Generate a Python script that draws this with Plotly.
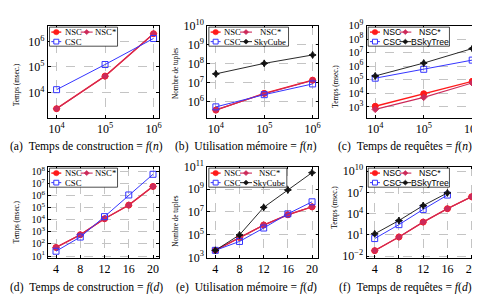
import plotly.graph_objects as go

W, H = 480, 296

# ---------------- data ----------------
n_vals = [1e4, 1e5, 1e6]
d_vals = [4, 8, 12, 16, 20]
d_vals_short = [4, 8, 12, 16]

a_nsc = [2350, 44000, 2.0e6]
a_nsc_star = [2350, 44000, 2.0e6]
a_csc = [13000, 125000, 1.3e6]

b_nsc = [3.5e5, 2.7e6, 1.35e7]
b_nsc_star = [3.6e5, 2.6e6, 1.3e7]
b_csc = [5.2e5, 2.3e6, 8.5e6]
b_skycube = [2.9e7, 1.04e8, 2.9e8]

c_nsc = [1.1e3, 9.2e3, 7.6e4]
c_nsc_star = [650, 5.0e3, 5.8e4]
c_csc = [1.3e5, 5.9e5, 2.8e6]
c_bskytree = [1.9e5, 1.7e6, 2.0e7]

d_nsc = [51, 570, 1.2e4, 1.6e5, 5.6e6]
d_nsc_star = [51, 570, 1.2e4, 1.6e5, 5.6e6]
d_csc = [25, 370, 1.8e4, 1.1e6, 5.6e7]

e_nsc = [4.1e3, 5.6e4, 7.0e5, 5.6e6, 2.8e7]
e_nsc_star = [4.1e3, 5.6e4, 7.0e5, 5.6e6, 2.8e7]
e_csc = [4.1e3, 2.5e4, 3.8e5, 6.8e6, 7.8e7]
e_skycube = [4.1e3, 9.4e4, 2.5e7, 8.7e8, 2.9e10]

f_nsc = [0.059, 5, 650, 5.0e4, 2.5e6]
f_nsc_star = [0.059, 5, 650, 5.0e4, 2.5e6]
f_csc = [3, 280, 4.0e4, 4.3e6]
f_bskytree = [14, 1070, 1.4e5, 8.7e6]

# tick exponents
x_exp_n = [4, 5, 6]
x_ticks_d = [4, 8, 12, 16, 20]
a_y_exp = [4, 5, 6]
b_y_exp = [6, 7, 8, 9, 10]
c_y_exp = [3, 4, 5, 6, 7, 8, 9]
d_y_exp = [1, 2, 3, 4, 5, 6, 7, 8]
e_y_exp = [3, 5, 7, 9, 11]
f_y_exp = [-2, 1, 4, 7, 10]

captions = [
    "(a)\u2002Temps de construction = <i>f</i>(<i>n</i>)",
    "(b)\u2002Utilisation mémoire = <i>f</i>(<i>n</i>)",
    "(c)\u2002Temps de requêtes = <i>f</i>(<i>n</i>)",
    "(d)\u2002Temps de construction = <i>f</i>(<i>d</i>)",
    "(e)\u2002Utilisation mémoire = <i>f</i>(<i>d</i>)",
    "(f)\u2002Temps de requêtes = <i>f</i>(<i>d</i>)",
]
ytitles = ["Temps (msec.)", "Nombre de tuples", "Temps (msec.)",
           "Temps (msec.)", "Nombre de tuples", "Temps (msec.)"]

# ---------------- styles ----------------
RED = "#ff1a1a"
CRIMSON = "#cc2a5a"
BLUE = "#3535ff"
BLACK = "#111111"
SERIF = "Liberation Serif"
SANS = "Liberation Sans"

styles = {
    "NSC": dict(color=RED, symbol="circle", size=6, lw=1.4),
    "NSC*": dict(color=CRIMSON, symbol="diamond", size=5, lw=1.1),
    "CSC": dict(color=BLUE, symbol="square-open", size=6, lw=1.0),
    "SkyCube": dict(color=BLACK, symbol="star-diamond", size=5, lw=0.9),
    "BSkyTree": dict(color=BLACK, symbol="star-diamond", size=5, lw=0.9),
}

panels = [
    dict(x=n_vals, series=[("NSC", a_nsc), ("NSC*", a_nsc_star), ("CSC", a_csc)]),
    dict(x=n_vals, series=[("NSC", b_nsc), ("NSC*", b_nsc_star), ("CSC", b_csc), ("SkyCube", b_skycube)]),
    dict(x=n_vals, series=[("NSC", c_nsc), ("NSC*", c_nsc_star), ("CSC", c_csc), ("BSkyTree", c_bskytree)]),
    dict(x=d_vals, series=[("NSC", d_nsc), ("NSC*", d_nsc_star), ("CSC", d_csc)]),
    dict(x=d_vals, series=[("NSC", e_nsc), ("NSC*", e_nsc_star), ("CSC", e_csc), ("SkyCube", e_skycube)]),
    dict(x=d_vals, series=[("NSC", f_nsc), ("NSC*", f_nsc_star), ("CSC", f_csc), ("BSkyTree", f_bskytree)],
         xs={"CSC": d_vals_short, "BSkyTree": d_vals_short}),
]

# layout geometry (pixels)
box_x = [(40, 152), (200, 311.7), (360, 472)]
box_y = [(10, 107), (158, 254)]
yranges = [(3.01, 6.62), (5.13, 10.02), (2.18, 9.0), (0.84, 8.39), (2.94, 11.0), (-2.27, 10.67)]
xrange_log = (3.82, 6.12)
xrange_lin = (2.65, 21.05)
y_exps = [a_y_exp, b_y_exp, c_y_exp, d_y_exp, e_y_exp, f_y_exp]
ytick_size = [12, 12, 11, 10, 12, 12]
legend_right = [110, 121.7, 123.3, 110, 120, 123.3]
legend_font = [SERIF, SERIF, SANS, SERIF, SERIF, SANS]
ytitle_cy = [72, 60, 74, 68, 67, 53]


def sup(k):
    s = str(k).replace("-", "\u2212")
    return "10<sup>" + s + "</sup>"


fig = go.Figure()
shapes = []
annotations = []

for i, p in enumerate(panels):
    col, row = i % 3, i // 3
    ax = "" if i == 0 else str(i + 1)
    xref, yref = "x" + ax, "y" + ax
    for name, vals in p["series"]:
        st = styles[name]
        xs = p.get("xs", {}).get(name, p["x"])
        fig.add_trace(go.Scatter(
            x=xs, y=vals, mode="lines+markers", name=name, showlegend=False,
            line=dict(color=st["color"], width=st["lw"]),
            marker=dict(symbol=st["symbol"], size=st["size"], color=st["color"],
                        line=dict(color=st["color"], width=1)),
            xaxis=xref, yaxis=yref, hoverinfo="skip"))

    bx0, bx1 = box_x[col]
    by0, by1 = box_y[row]
    common = dict(showline=True, linecolor="black", linewidth=0.8, mirror="ticks",
                  ticks="inside", ticklen=3, tickwidth=0.7, tickcolor="black",
                  showgrid=True, gridcolor="#c4c4c4", griddash="dash", gridwidth=0.6,
                  zeroline=False)
    if row == 0:
        xa = dict(type="log", range=list(xrange_log), tickvals=n_vals,
                  ticktext=[sup(k) for k in x_exp_n], **common)
    else:
        xa = dict(type="linear", range=list(xrange_lin), tickvals=x_ticks_d,
                  ticktext=[str(v) for v in x_ticks_d], **common)
    xa["tickfont"] = dict(family=SERIF, size=12, color="black")
    xa["domain"] = [bx0 / W, bx1 / W]
    xa["anchor"] = yref
    ya = dict(type="log", range=list(yranges[i]), tickvals=[10.0 ** k for k in y_exps[i]],
              ticktext=[sup(k) for k in y_exps[i]], **common)
    ya["tickfont"] = dict(family=SERIF, size=ytick_size[i], color="black")
    ya["domain"] = [1 - by1 / H, 1 - by0 / H]
    ya["anchor"] = xref
    fig.update_layout(**{"xaxis" + ax: xa, "yaxis" + ax: ya})

    ox, oy = 160 * col, 148 * row

    def P(x, y):
        return (ox + x) / W, 1 - (oy + y) / H

    # caption
    cx, cy = P(79, 136.7)
    annotations.append(dict(x=cx, y=cy, xref="paper", yref="paper", text=captions[i],
                            showarrow=False, xanchor="center", yanchor="middle",
                            font=dict(family=SERIF, size=11.6, color="black")))
    # y title
    tx, ty = P(8.5, ytitle_cy[i])
    annotations.append(dict(x=tx, y=ty, xref="paper", yref="paper", text=ytitles[i],
                            showarrow=False, textangle=-90, xanchor="center", yanchor="middle",
                            font=dict(family=SERIF, size=7.2, color="black")))

    # legend (custom, compact, pgfplots style)
    names = [s[0] for s in p["series"]]
    order = [names[0], names[1], names[2]] + ([names[3]] if len(names) > 3 else [])
    lx0, lx1, ly0, ly1 = 41.7, legend_right[i], 11.7, 31.7
    a0, b0 = P(lx0, ly0)
    a1, b1 = P(lx1, ly1)
    shapes.append(dict(type="rect", xref="paper", yref="paper", x0=a0, x1=a1, y0=b1, y1=b0,
                       line=dict(color="black", width=0.7), fillcolor="white", layer="above"))
    for k, name in enumerate(order):
        r, c = k // 2, k % 2
        yy = 16.9 + 10 * r
        if c == 0:
            g0, g1, gm = 43.5, 53.5, 48.5
            tx_, anchor = 55.0, "left"
        else:
            g0, g1, gm = 73.0, 85.0, 79.0
            tx_, anchor = (86.5 + lx1 - 1.5) / 2, "center"
        st = styles[name]
        q0 = P(g0, yy)
        q1 = P(g1, yy)
        shapes.append(dict(type="line", xref="paper", yref="paper", x0=q0[0], x1=q1[0],
                           y0=q0[1], y1=q1[1], line=dict(color=st["color"], width=st["lw"]),
                           layer="above"))
        sym = st["symbol"]
        if sym == "circle":
            m0 = P(gm - 2.8, yy - 2.8)
            m1 = P(gm + 2.8, yy + 2.8)
            shapes.append(dict(type="circle", xref="paper", yref="paper", x0=m0[0], x1=m1[0],
                               y0=m1[1], y1=m0[1], line=dict(color=st["color"], width=0.5),
                               fillcolor=st["color"], layer="above"))
        elif sym == "square-open":
            m0 = P(gm - 2.5, yy - 2.5)
            m1 = P(gm + 2.5, yy + 2.5)
            shapes.append(dict(type="rect", xref="paper", yref="paper", x0=m0[0], x1=m1[0],
                               y0=m1[1], y1=m0[1], line=dict(color=st["color"], width=1),
                               fillcolor="white", layer="above"))
        else:
            rr = 2.6
            pts = [P(gm, yy - rr), P(gm + rr, yy), P(gm, yy + rr), P(gm - rr, yy)]
            path = "M" + " L".join(f"{a:.5f},{b:.5f}" for a, b in pts) + " Z"
            shapes.append(dict(type="path", xref="paper", yref="paper", path=path,
                               line=dict(color=st["color"], width=0.6),
                               fillcolor=st["color"], layer="above"))
        t = P(tx_, yy)
        annotations.append(dict(x=t[0], y=t[1], xref="paper", yref="paper", text=name,
                                showarrow=False, xanchor=anchor, yanchor="middle",
                                font=dict(family=legend_font[i], size=8.7, color="black")))

fig.update_layout(width=W, height=H, margin=dict(l=0, r=0, t=0, b=0),
                  paper_bgcolor="white", plot_bgcolor="white", showlegend=False,
                  shapes=shapes, annotations=annotations)

fig.write_html("out.html")
